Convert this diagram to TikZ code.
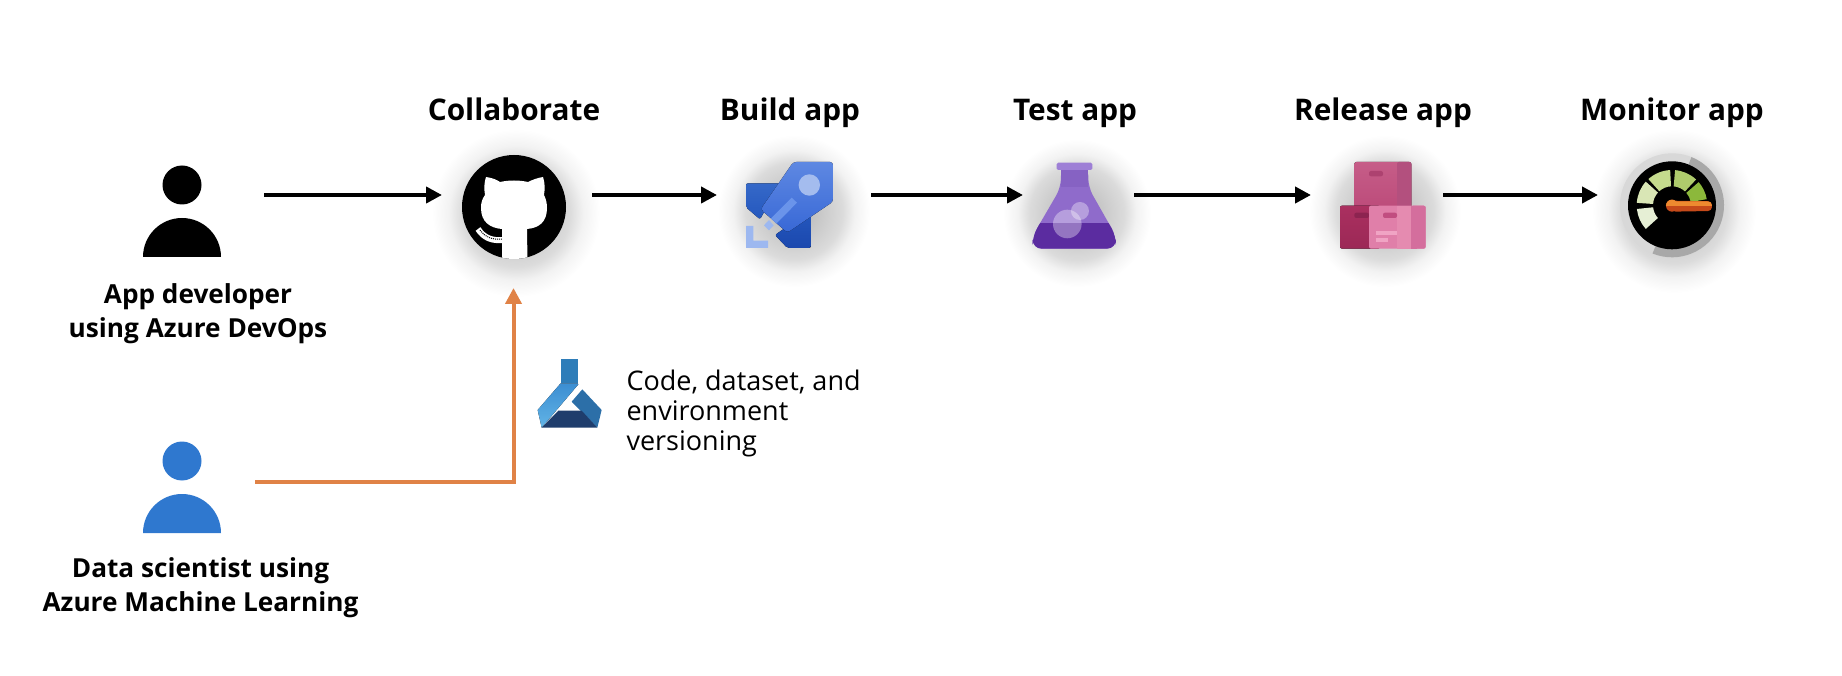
\documentclass[tikz,border=0pt]{standalone}
\usepackage{fontspec}
\setmainfont{Open Sans}
\usetikzlibrary{arrows.meta}
\definecolor{flowOrange}{HTML}{E08246}
\definecolor{scientistBlue}{HTML}{2F78CF}
\definecolor{buildA}{HTML}{3568C8}
\definecolor{buildB}{HTML}{2558BE}
\definecolor{buildC}{HTML}{1B48AE}
\definecolor{buildD}{HTML}{5E88E2}
\definecolor{buildE}{HTML}{3868D6}
\definecolor{buildF}{HTML}{A4BCEE}
\definecolor{buildG}{HTML}{6A94EA}
\definecolor{buildH}{HTML}{9DB8F0}
\definecolor{flaskA}{HTML}{9E7FD6}
\definecolor{flaskB}{HTML}{8662C3}
\definecolor{flaskC}{HTML}{8F6BCB}
\definecolor{flaskD}{HTML}{5B2CA0}
\definecolor{boxA}{HTML}{C65D88}
\definecolor{boxB}{HTML}{BC4B7A}
\definecolor{boxC}{HTML}{B3507E}
\definecolor{boxD}{HTML}{AD4270}
\definecolor{boxE}{HTML}{AA3060}
\definecolor{boxF}{HTML}{9C2856}
\definecolor{boxG}{HTML}{8C2450}
\definecolor{boxH}{HTML}{E07FA9}
\definecolor{boxI}{HTML}{E58BB0}
\definecolor{boxJ}{HTML}{D46E9D}
\definecolor{boxK}{HTML}{C14D80}
\definecolor{boxL}{HTML}{F0A4C4}
\definecolor{dialRingA}{HTML}{D8D8D8}
\definecolor{dialRingB}{HTML}{A8A8A8}
\definecolor{needleA}{HTML}{EE8A2F}
\definecolor{needleB}{HTML}{C64A1A}
\definecolor{mlA}{HTML}{2E7DB9}
\definecolor{mlB}{HTML}{3C8ED2}
\definecolor{mlC}{HTML}{62B4E6}
\definecolor{mlD}{HTML}{2C6FA8}
\definecolor{mlE}{HTML}{1F3D6C}
\pgfdeclareradialshading{softglow}{\pgfpoint{0bp}{0bp}}{color(0bp)=(black!30); color(16bp)=(black!14); color(20bp)=(black!5); color(25bp)=(white); color(50bp)=(white)}
\tikzset{
    iconbox/.style={rectangle,inner sep=0pt,outer sep=0pt,minimum height=10pt},
    steptitle/.style={anchor=base,font=\bfseries\fontsize{29.8}{34}\selectfont},
    roletitle/.style={align=center,font=\bfseries\fontsize{26.2}{34}\selectfont},
    flow/.style={line width=4pt,-{Triangle[length=16pt,width=16pt]}},
    zoomed/.style={x=.3333pt,y=-.3333pt},
    glow/.style={shading=softglow,draw=none},
    pics/person/.style={code={
        \fill[#1] (0,0) circle[radius=19.5pt];
        \fill[#1] (-39,72) arc[start angle=180,end angle=0,radius=39pt] -- cycle;
    }}
}
\begin{document}
\begin{tikzpicture}[x=1pt,y=-1pt]
    \path[use as bounding box] (0,0) rectangle (1842,676);

    \path[glow] (516,213) circle[radius=84pt];
    \path[glow] (794,211) circle[radius=76pt];
    \path[glow] (1077,213) circle[radius=74pt];
    \path[glow] (1385,211) circle[radius=76pt];
    \path[glow] (1674,211) circle[radius=82pt];

    \pic at (182,185) {person=black};
    \pic at (182,461) {person=scientistBlue};

    % github
    \fill[black] (514,207) circle[radius=52pt];
    \begin{scope}
        \clip (514,207) circle[radius=52pt];
        \fill[white] (486,177) .. controls (493,178) and (497,180) .. (500,182)
            .. controls (509,180) and (519,180) .. (528,182)
            .. controls (532,180) and (537,178) .. (543,177)
            .. controls (545,183) and (545,189) .. (544,195)
            .. controls (546,199) and (547,203) .. (547,208)
            .. controls (547,222) and (539,228) .. (527,229)
            -- (527.5,262) -- (502,262) -- (502,229)
            .. controls (490,228) and (481,222) .. (481,208)
            .. controls (481,203) and (482,199) .. (485,195)
            .. controls (484,189) and (484,183) .. (486,177) -- cycle;
        \draw[white,line width=6pt] (478,229) .. controls (484,238) and (492,241) .. (503,240);
        \draw[black,line width=1pt,densely dotted] (480,230) .. controls (485,237) and (492,240) .. (502,239);
    \end{scope}

    % build
    \begin{scope}[shift={(700,130)},zoomed]
        \fill[rounded corners=2pt,top color=buildA,bottom color=buildB] (138,160) -- (240,160) -- (180,268) -- (138,232) -- cycle;
        \fill[rounded corners=2pt,top color=buildB,bottom color=buildC] (225,315) -- (262,354) -- (333,354) -- (333,240) -- cycle;
        \fill[rounded corners=3pt,top color=buildD,bottom color=buildE] (280,96) -- (399,96) -- (399,215) -- (262,308) -- (182,238) -- cycle;
        \fill[buildF] (328,165) circle[radius=10.7pt];
        \fill[buildG] (275,203) -- (291,218) -- (229,281) -- (213,265) -- cycle;
        \fill[buildH] (207,270) -- (221,286) -- (207,301) -- (192,286) -- cycle;
        \fill[buildH] (138,288) -- (160,288) -- (160,332) -- (204,332) -- (204,354) -- (138,354) -- cycle;
    \end{scope}

    % test
    \begin{scope}[shift={(700,130)},zoomed]
        \fill[flaskC,rounded corners=9pt] (1083,110) -- (1083,172) -- (998,318) -- (998,356) -- (1248,356) -- (1248,318) -- (1165,172) -- (1165,110) -- cycle;
        \begin{scope}
            \clip (990,282) rectangle (1256,360);
            \fill[flaskD,rounded corners=9pt] (1083,110) -- (1083,172) -- (998,318) -- (998,356) -- (1248,356) -- (1248,318) -- (1165,172) -- (1165,110) -- cycle;
        \end{scope}
        \fill[flaskB] (1083,120) rectangle (1165,172);
        \fill[flaskA,rounded corners=1.5pt] (1070,98) rectangle (1177,120);
        \fill[white,opacity=.35] (1102,282) circle[radius=14.3pt];
        \fill[white,opacity=.35] (1140,243) circle[radius=9pt];
    \end{scope}

    % release
    \begin{scope}[shift={(1300,130)},zoomed]
        \fill[rounded corners=2pt,top color=boxA,bottom color=boxB] (163,96) rectangle (334,240);
        \fill[rounded corners=2pt,boxC] (291,96) rectangle (334,240);
        \fill[boxD,rounded corners=2pt] (207,123) rectangle (249,139);
        \fill[rounded corners=2pt,top color=boxE,bottom color=boxF] (120,227) rectangle (240,356);
        \fill[boxG,rounded corners=2pt] (163,248) rectangle (207,264);
        \fill[rounded corners=2pt,boxH] (207,227) rectangle (377,356);
        \fill[boxI] (291,227) rectangle (334,356);
        \fill[rounded corners=2pt,boxJ] (334,227) rectangle (377,356);
        \fill[boxJ] (334,227) rectangle (350,356);
        \fill[boxK,rounded corners=2pt] (249,248) rectangle (291,264);
        \fill[boxL] (228,303) rectangle (291,314);
        \fill[boxL] (228,324) rectangle (264,335);
    \end{scope}

    % monitor
    \fill[dialRingA] (1672,205.3) circle[radius=52pt];
    \fill[dialRingB] (1672,205.3) -- ++(68:52pt) arc[start angle=68,end angle=-112,radius=52pt] -- cycle;
    \fill[black] (1672,205.3) circle[radius=44pt];
    \foreach \from/\to/\tone in {186/222/E6EFD5,138/176/D9E6B5,93/132/C5DB8D,47/85/AECB6C,10/41/8CB83B}{
        \definecolor{segtone}{HTML}{\tone}
        \fill[segtone] ([shift={(\from:19pt)}]1672,205.3) arc[start angle=\from,end angle=\to,radius=19pt]
            -- ([shift={(\to:35.3pt)}]1672,205.3) arc[start angle=\to,end angle=\from,radius=35.3pt] -- cycle;
    }
    \begin{scope}[shift={(1300,130)},zoomed]
        \fill[needleB,rounded corners=4pt] (1115,212) -- (1236,214) -- (1236,243) -- (1115,245) -- cycle;
        \fill[needleB] (1116,227) circle[radius=6pt];
        \begin{scope}
            \clip (1090,200) rectangle (1240,228);
            \fill[needleA] (1116,227) circle[radius=6pt];
            \fill[needleA,rounded corners=4pt] (1115,214) -- (1236,214) -- (1236,243) -- (1115,243) -- cycle;
        \end{scope}
    \end{scope}

    % azure ml
    \begin{scope}[shift={(525,350)},zoomed]
        \fill[mlA] (107,27) rectangle (158,100);
        \fill[top color=mlB,bottom color=mlC] (107,100) -- (158,100) -- (160,103) -- (50,233) -- (38,180) -- cycle;
        \fill[mlD] (172,118) -- (230,180) -- (217,233) -- (140,155) -- cycle;
        \fill[mlE] (100,182) -- (170,182) -- (217,233) -- (50,233) -- cycle;
    \end{scope}

    \node[steptitle] (collabTitle) at (514,121) {Collaborate};
    \node[steptitle] (buildTitle) at (790,121) {Build app};
    \node[steptitle] (testTitle) at (1075,121) {Test app};
    \node[steptitle] (releaseTitle) at (1383,121) {Release app};
    \node[steptitle] (monitorTitle) at (1672,121) {Monitor app};

    \node[roletitle] (devTitle) at (198,314) {App developer\\using Azure DevOps};
    \node[roletitle] (dataTitle) at (200.5,588) {Data scientist using\\Azure Machine Learning};
    \node[align=left,anchor=west,font=\fontsize{27}{30}\selectfont] (versionNote) at (623,413) {Code, dataset, and\\environment\\versioning};

    \node[iconbox,minimum width=164pt] (dev) at (182,195) {};
    \node[iconbox,minimum width=150pt] (github) at (517,195) {};
    \node[iconbox,minimum width=154pt] (build) at (794,195) {};
    \node[iconbox,minimum width=111pt] (flask) at (1078.5,195) {};
    \node[iconbox,minimum width=132pt] (release) at (1377,195) {};
    \node[iconbox,minimum width=100pt] (monitor) at (1648,195) {};
    \node[iconbox,minimum width=146pt] (scientist) at (182,482) {};
    \coordinate (githubFoot) at (513.5,288);

    \draw[flow] (dev) -- (github);
    \draw[flow] (github) -- (build);
    \draw[flow] (build) -- (flask);
    \draw[flow] (flask) -- (release);
    \draw[flow] (release) -- (monitor);
    \draw[flow,flowOrange] (scientist.east) -| (githubFoot);
\end{tikzpicture}
\end{document}
